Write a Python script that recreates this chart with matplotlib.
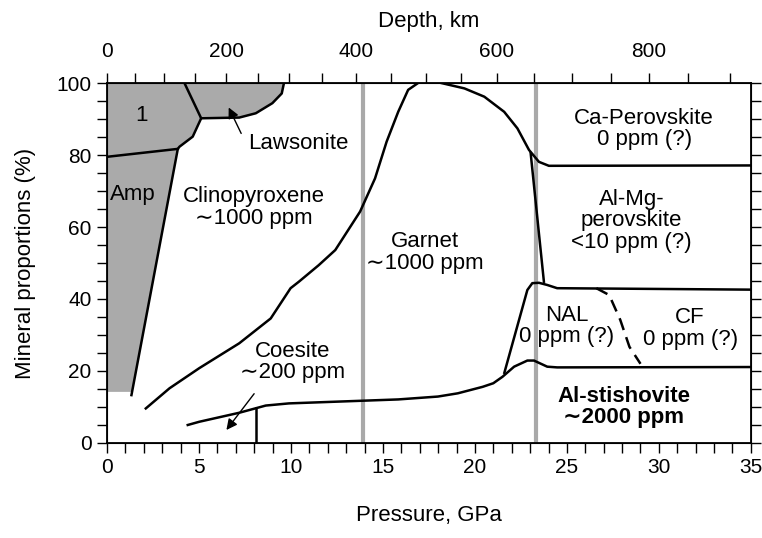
import matplotlib.pyplot as plt

plt.rcParams['font.family'] = ['Liberation Sans', 'DejaVu Sans']

# depth scale (km) and where it sits on the pressure axis (GPa)
depth_km = [0, 50, 100, 150, 200, 250, 300, 350, 400, 450, 500, 550, 600, 650, 700, 750, 800, 850, 900]
depth_gpa = [0.02, 1.54, 3.11, 4.77, 6.47, 8.20, 9.89, 11.71, 13.53, 15.45, 17.33, 19.24, 21.18, 23.22,
             25.27, 27.38, 29.44, 31.59, 33.88]

# discontinuities (410 and 660 km)
disc_p = [13.9, 23.3]

# gray field "1" + Amp
amp_p = [0, 4.21, 5.12, 4.66, 3.94, 3.85, 1.33, 1.30, 0]
amp_y = [100, 100, 90.2, 85.1, 82.3, 81.7, 13.3, 14.2, 14.2]
# gray field Lawsonite
law_p = [4.21, 9.62, 9.50, 8.99, 8.09, 7.19, 5.12]
law_y = [100, 100, 97.1, 94.4, 91.6, 90.4, 90.2]

# boundaries
amp_edge_p = [4.21, 5.12, 4.66, 3.94, 3.85, 1.33]
amp_edge_y = [100, 90.2, 85.1, 82.3, 81.7, 13.3]
amp_div_p = [0, 3.85]
amp_div_y = [79.5, 81.7]
law_edge_p = [5.12, 7.19, 8.09, 8.99, 9.50, 9.62]
law_edge_y = [90.2, 90.4, 91.6, 94.4, 97.1, 100]

cpx_p = [2.11, 3.40, 5.02, 7.19, 8.90, 9.44, 9.98, 10.43, 11.51, 12.41, 13.76, 14.57, 15.20, 15.83, 16.37, 16.91]
cpx_y = [9.6, 15.2, 20.8, 27.7, 34.6, 38.8, 43.0, 44.8, 49.4, 53.6, 64.3, 73.5, 83.7, 92.0, 98.1, 100]

gt_top_p = [18.17, 19.43, 20.51, 21.59, 22.31, 22.94, 23.48, 24.02, 35]
gt_top_y = [100, 98.5, 96.2, 92.0, 87.4, 81.4, 78.1, 77.0, 77.1]

gt_pv_p = [23.03, 23.75]
gt_pv_y = [80.5, 44.8]

nal_p = [21.6, 22.85, 23.12, 23.48, 23.93, 24.47, 35]
nal_y = [19.5, 42.5, 44.4, 44.5, 43.9, 43.0, 42.6]

cf_p = [26.6, 27.3, 27.9, 28.4, 29.0]
cf_y = [43.0, 41.1, 34.2, 26.7, 22.0]

stv_p = [4.39, 5.02, 7.19, 8.63, 9.89, 13.67, 15.83, 17.99, 19.07, 20.42, 21.0, 21.5, 22.13, 22.85, 23.21,
         23.93, 24.47, 35]
stv_y = [5.0, 5.9, 8.4, 10.4, 11.0, 11.7, 12.1, 12.9, 13.8, 15.6, 16.6, 18.4, 21.2, 22.9, 22.9, 21.2, 21.0, 21.1]

coe_p = [8.1, 8.1]
coe_y = [0, 9.6]

fig = plt.figure(figsize=(7.62, 5.38), dpi=100)
ax = fig.add_axes([0.1404, 0.1766, 0.845, 0.6691])

for p in disc_p:
    ax.axvline(p, color='#a9a9a9', lw=3, zorder=1)

ax.fill(amp_p, amp_y, color='#aaaaaa', lw=0, zorder=1)
ax.fill(law_p, law_y, color='#aaaaaa', lw=0, zorder=1)

lk = dict(color='black', lw=1.8, zorder=3)
ax.plot(amp_edge_p, amp_edge_y, **lk)
ax.plot(amp_div_p, amp_div_y, **lk)
ax.plot(law_edge_p, law_edge_y, **lk)
ax.plot(cpx_p, cpx_y, **lk)
ax.plot(gt_top_p, gt_top_y, **lk)
ax.plot(gt_pv_p, gt_pv_y, **lk)
ax.plot(nal_p, nal_y, **lk)
ax.plot(stv_p, stv_y, **lk)
ax.plot(coe_p, coe_y, **lk)
ax.plot(cf_p, cf_y, color='black', lw=1.8, ls=(0, (5, 3)), zorder=3)

ax.annotate('', xy=(6.55, 93.9), xytext=(7.36, 85.3),
            arrowprops=dict(arrowstyle='-|>', color='black', lw=1, mutation_scale=16))
ax.annotate('', xy=(6.4, 3.0), xytext=(8.09, 14.3),
            arrowprops=dict(arrowstyle='-|>', color='black', lw=1, mutation_scale=16))

fs = 16
ax.text(1.9, 91, '1', fontsize=fs, ha='center', va='center')
ax.text(10.4, 83.3, 'Lawsonite', fontsize=fs, ha='center', va='center')
ax.text(1.38, 68.9, 'Amp', fontsize=fs, ha='center', va='center')
ax.text(8.0, 65.5, 'Clinopyroxene\n∼1000 ppm', fontsize=fs, ha='center', va='center', linespacing=1.05)
ax.text(17.3, 53.0, 'Garnet\n∼1000 ppm', fontsize=fs, ha='center', va='center', linespacing=1.05)
ax.text(10.1, 22.5, 'Coesite\n∼200 ppm', fontsize=fs, ha='center', va='center', linespacing=1.05)
ax.text(29.2, 87.2, 'Ca-Perovskite\n0 ppm (?)', fontsize=fs, ha='center', va='center', linespacing=1.05)
ax.text(28.5, 61.7, 'Al-Mg-\nperovskite\n<10 ppm (?)', fontsize=fs, ha='center', va='center',
        linespacing=1.05)
ax.text(25.0, 32.5, 'NAL\n0 ppm (?)', fontsize=fs, ha='center', va='center', linespacing=1.05)
ax.text(31.7, 31.9, 'CF\n0 ppm (?)', fontsize=fs, ha='center', va='center', linespacing=1.05)
ax.text(28.1, 10.0, 'Al-stishovite\n∼2000 ppm', fontsize=fs, ha='center', va='center',
        fontweight='bold', linespacing=1.05)

ax.set_xlim(0, 35)
ax.set_ylim(0, 100)
ax.set_xticks(range(0, 36, 5))
ax.set_xticks(range(0, 36), minor=True)
ax.set_yticks(range(0, 101, 20))
ax.set_yticks(range(0, 101, 5), minor=True)
ax.tick_params(which='both', direction='out', length=7, width=1, labelsize=15, pad=4, right=True)
ax.set_xlabel('Pressure, GPa', fontsize=16, labelpad=20)
ax.set_ylabel('Mineral proportions (%)', fontsize=16, labelpad=15)
for s in ax.spines.values():
    s.set_linewidth(1.3)

ax2 = ax.twiny()
ax2.set_xlim(0, 35)
ax2.set_xticks([depth_gpa[i] for i in range(0, len(depth_km), 4)])
ax2.set_xticklabels([str(depth_km[i]) for i in range(0, len(depth_km), 4)])
ax2.set_xticks(depth_gpa, minor=True)
ax2.tick_params(which='both', direction='out', length=7, width=1, labelsize=15, pad=9)
ax2.set_xlabel('Depth, km', fontsize=16, labelpad=11)

fig.savefig('out.png', dpi=100)
